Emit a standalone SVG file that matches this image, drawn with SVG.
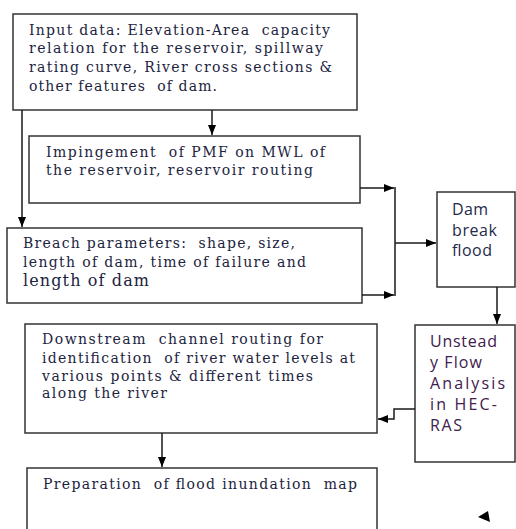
<svg xmlns="http://www.w3.org/2000/svg" width="516" height="529" viewBox="0 0 516 529">
<style>
  .box { fill: #ffffff; stroke: #333333; stroke-width: 1.5; }
  .serif { font-family: "DejaVu Serif", "Liberation Serif", serif; font-size: 14px; fill: #1c2440; white-space: pre; }
  .sans { font-family: "Open Sans", "Liberation Sans", sans-serif; font-size: 16px; }
  .dam { fill: #1f2a4c; }
  .uns { fill: #40204c; }
  .conn { fill: none; stroke: #1a1a1a; stroke-width: 1.5; }
</style>
<defs>
  <marker id="ah" markerUnits="userSpaceOnUse" markerWidth="11" markerHeight="9" refX="10" refY="4" orient="auto">
    <path d="M0,0 L10,4 L0,8 Z" fill="#000000"/>
  </marker>
</defs>
<rect width="516" height="529" fill="#ffffff"/>

<g id="input-data">
  <rect class="box" x="13" y="14" width="344" height="96"/>
  <text class="serif" x="29" y="35" textLength="301" lengthAdjust="spacing">Input data: Elevation-Area  capacity</text>
  <text class="serif" x="29" y="53" textLength="294" lengthAdjust="spacing">relation for the reservoir, spillway</text>
  <text class="serif" x="29" y="72" textLength="303" lengthAdjust="spacing">rating curve, River cross sections &amp;</text>
  <text class="serif" x="29" y="91" textLength="188" lengthAdjust="spacing">other features  of dam.</text>
</g>

<g id="impingement">
  <rect class="box" x="29" y="136" width="331" height="67"/>
  <text class="serif" x="46" y="157" textLength="279" lengthAdjust="spacing">Impingement  of PMF on MWL of</text>
  <text class="serif" x="46" y="175" textLength="267" lengthAdjust="spacing">the reservoir, reservoir routing</text>
</g>

<g id="breach">
  <rect class="box" x="7" y="228" width="355" height="75"/>
  <text class="serif" x="23" y="248" textLength="272" lengthAdjust="spacing">Breach parameters:  shape, size,</text>
  <text class="serif" x="23" y="267" textLength="283" lengthAdjust="spacing">length of dam, time of failure and</text>
  <text class="serif" x="23" y="286" style="font-size:16px" textLength="126" lengthAdjust="spacing">length of dam</text>
</g>

<g id="dam-break">
  <rect class="box" x="437" y="192" width="78" height="95"/>
  <text class="sans dam" x="452" y="215" textLength="36" lengthAdjust="spacing">Dam</text>
  <text class="sans dam" x="452" y="236" textLength="45" lengthAdjust="spacing">break</text>
  <text class="sans dam" x="452" y="256" textLength="40" lengthAdjust="spacing">flood</text>
</g>

<g id="unsteady">
  <rect class="box" x="415" y="325" width="100" height="137"/>
  <text class="sans uns" x="430" y="347" textLength="67" lengthAdjust="spacing">Unstead</text>
  <text class="sans uns" x="430" y="368" textLength="52" lengthAdjust="spacing">y Flow</text>
  <text class="sans uns" x="430" y="389" textLength="75" lengthAdjust="spacing">Analysis</text>
  <text class="sans uns" x="430" y="410" textLength="67" lengthAdjust="spacing">in HEC-</text>
  <text class="sans uns" x="430" y="431" textLength="32" lengthAdjust="spacing">RAS</text>
</g>

<g id="downstream">
  <rect class="box" x="25" y="324" width="352" height="109"/>
  <text class="serif" x="42" y="344" textLength="281" lengthAdjust="spacing">Downstream  channel routing for</text>
  <text class="serif" x="42" y="363" textLength="313" lengthAdjust="spacing">identification  of river water levels at</text>
  <text class="serif" x="42" y="381" textLength="271" lengthAdjust="spacing">various points &amp; different times</text>
  <text class="serif" x="42" y="398" textLength="125" lengthAdjust="spacing">along the river</text>
</g>

<g id="inundation-map">
  <rect class="box" x="27" y="468" width="350" height="80"/>
  <text class="serif" x="43" y="489" textLength="314" lengthAdjust="spacing">Preparation  of flood inundation  map</text>
</g>

<g id="connectors">
  <line class="conn" x1="212" y1="110" x2="212" y2="135" marker-end="url(#ah)"/>
  <line class="conn" x1="22" y1="110" x2="22" y2="227" marker-end="url(#ah)"/>
  <line class="conn" x1="360" y1="188" x2="394" y2="188" marker-end="url(#ah)"/>
  <line class="conn" x1="362" y1="295" x2="394" y2="295" marker-end="url(#ah)"/>
  <line class="conn" x1="395" y1="187" x2="395" y2="296"/>
  <line class="conn" x1="395" y1="243" x2="436" y2="243" marker-end="url(#ah)"/>
  <line class="conn" x1="497" y1="287" x2="497" y2="324" marker-end="url(#ah)"/>
  <polyline class="conn" points="415,409 394,409 394,419 378,419" marker-end="url(#ah)"/>
  <line class="conn" x1="162" y1="433" x2="162" y2="467" marker-end="url(#ah)"/>
  <polygon points="478,517 488,511 490,522" fill="#000000"/>
</g>
</svg>
